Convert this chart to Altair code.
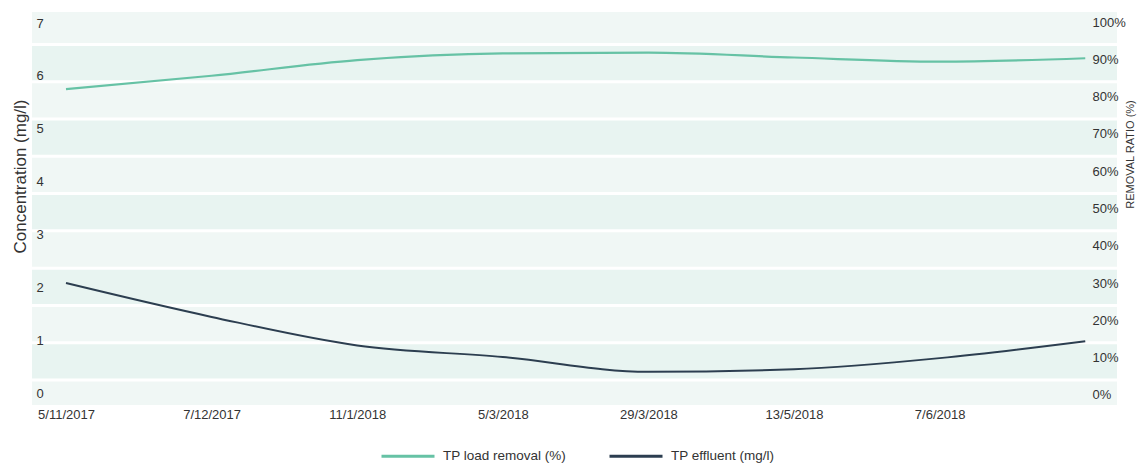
import altair as alt
import pandas as pd

# ---- data ----
date_labels = ["5/11/2017", "7/12/2017", "11/1/2018", "5/3/2018", "29/3/2018", "13/5/2018", "7/6/2018"]
point_index = [0, 1, 2, 3, 4, 5, 6, 7]
tp_removal = [82.0, 85.6, 89.8, 91.6, 91.8, 90.5, 89.4, 90.3]      # %
tp_effluent = [2.08, 1.44, 0.90, 0.68, 0.40, 0.45, 0.66, 0.98]     # mg/l

conc_ticks = [0, 1, 2, 3, 4, 5, 6, 7]
pct_ticks = [0, 10, 20, 30, 40, 50, 60, 70, 80, 90, 100]

# background bands (in % axis units)
band_lo = [-2.7, 4, 14, 24, 34, 44, 54, 64, 74, 84, 94]
band_hi = [4, 14, 24, 34, 44, 54, 64, 74, 84, 94, 102.7]
band_fill = ["#f0f7f5", "#e8f4f1"] * 5 + ["#f0f7f5"]
band_edges = [4, 14, 24, 34, 44, 54, 64, 74, 84, 94]

SERIES = ["TP load removal (%)", "TP effluent (mg/l)"]
COLORS = ["#66c2a5", "#2c3e50"]
FONT = "Liberation Sans"
W, H = 1085, 393

df = pd.DataFrame({"i": point_index, "removal": tp_removal, "effluent": tp_effluent})
df["s_rem"] = SERIES[0]
df["s_eff"] = SERIES[1]
bands = pd.DataFrame({"lo": band_lo, "hi": band_hi, "fill": band_fill})
edges = pd.DataFrame({"e": band_edges})

label_js = "[" + ",".join("'" + d + "'" for d in date_labels) + "]"
x_enc = alt.X(
    "i:Q",
    scale=alt.Scale(domain=[-0.2335, 7.218], nice=False, zero=False),
    axis=alt.Axis(
        values=list(range(len(date_labels))),
        labelExpr=label_js + "[datum.value]",
        title=None, grid=False, domain=False, ticks=False, tickSize=0,
        labelPadding=3, labelFont=FONT, labelFontSize=13, labelColor="#333333",
        labelFlush=False, labelOverlap=False,
    ),
)

pct_scale = alt.Scale(domain=[-2.7, 102.7], nice=False, zero=False)
conc_scale = alt.Scale(domain=[-0.227, 7.21], nice=False, zero=False)

pct_axis = alt.Axis(
    orient="right", values=pct_ticks, labelExpr="datum.value + '%'",
    grid=False, domain=False, ticks=False, tickSize=0, zindex=2,
    labelAlign="left", labelPadding=-25, labelBaseline="middle",
    labelFont=FONT, labelFontSize=13, labelColor="#333333",
    title="REMOVAL RATIO (%)", titleFont=FONT, titleFontSize=11,
    titleFontWeight="normal", titleColor="#333333",
    titleAngle=270, titleX=13, titleY=142, titleBaseline="middle", titleAlign="center",
)

band_layer = alt.Chart(bands).mark_rect().encode(
    x=alt.value(0), x2=alt.value(W),
    y=alt.Y("lo:Q", scale=pct_scale, axis=pct_axis, title="REMOVAL RATIO (%)"),
    y2="hi:Q",
    fill=alt.Fill("fill:N", scale=None),
)

rule_layer = alt.Chart(edges).mark_rule(color="white", strokeWidth=3).encode(
    x=alt.value(0), x2=alt.value(W),
    y=alt.Y("e:Q", scale=pct_scale, axis=pct_axis, title="REMOVAL RATIO (%)"),
)

color_scale = alt.Scale(domain=SERIES, range=COLORS)

green = alt.Chart(df).mark_line(interpolate="monotone", strokeWidth=2.2).encode(
    x=x_enc,
    y=alt.Y("removal:Q", scale=pct_scale, axis=pct_axis, title="REMOVAL RATIO (%)"),
    color=alt.Color("s_rem:N", scale=color_scale, legend=alt.Legend(title=None)),
)

dark = alt.Chart(df).mark_line(interpolate="monotone", strokeWidth=2).encode(
    x=x_enc,
    y=alt.Y("effluent:Q", scale=conc_scale, axis=alt.Axis(
        orient="left", values=conc_ticks,
        grid=False, domain=False, ticks=False, tickSize=0, zindex=2,
        labelAlign="left", labelPadding=-4, labelBaseline="middle",
        labelFont=FONT, labelFontSize=13, labelColor="#333333",
        title="Concentration (mg/l)", titleFont=FONT, titleFontSize=17,
        titleFontWeight="normal", titleColor="#333333",
        titleAngle=270, titleX=-12, titleY=164, titleBaseline="middle", titleAlign="center",
    )),
    color=alt.Color("s_eff:N", scale=color_scale, legend=alt.Legend(title=None)),
)

pct_part = alt.layer(band_layer, rule_layer, green)
chart = alt.layer(pct_part, dark).resolve_scale(y="independent").properties(
    width=W, height=H,
    autosize=alt.AutoSizeParams(type="none"),
    padding={"left": 24, "top": 4, "right": 20, "bottom": 61},
).configure_view(stroke=None).configure_legend(
    orient="none", legendX=348, legendY=416, direction="horizontal",
    symbolType="stroke", symbolSize=2809, symbolStrokeWidth=3,
    labelFont=FONT, labelFontSize=13.5, labelColor="#333333",
    labelOffset=7, columnPadding=36,
)

chart.save("out.html", embed_options={"renderer": "svg", "actions": False})
